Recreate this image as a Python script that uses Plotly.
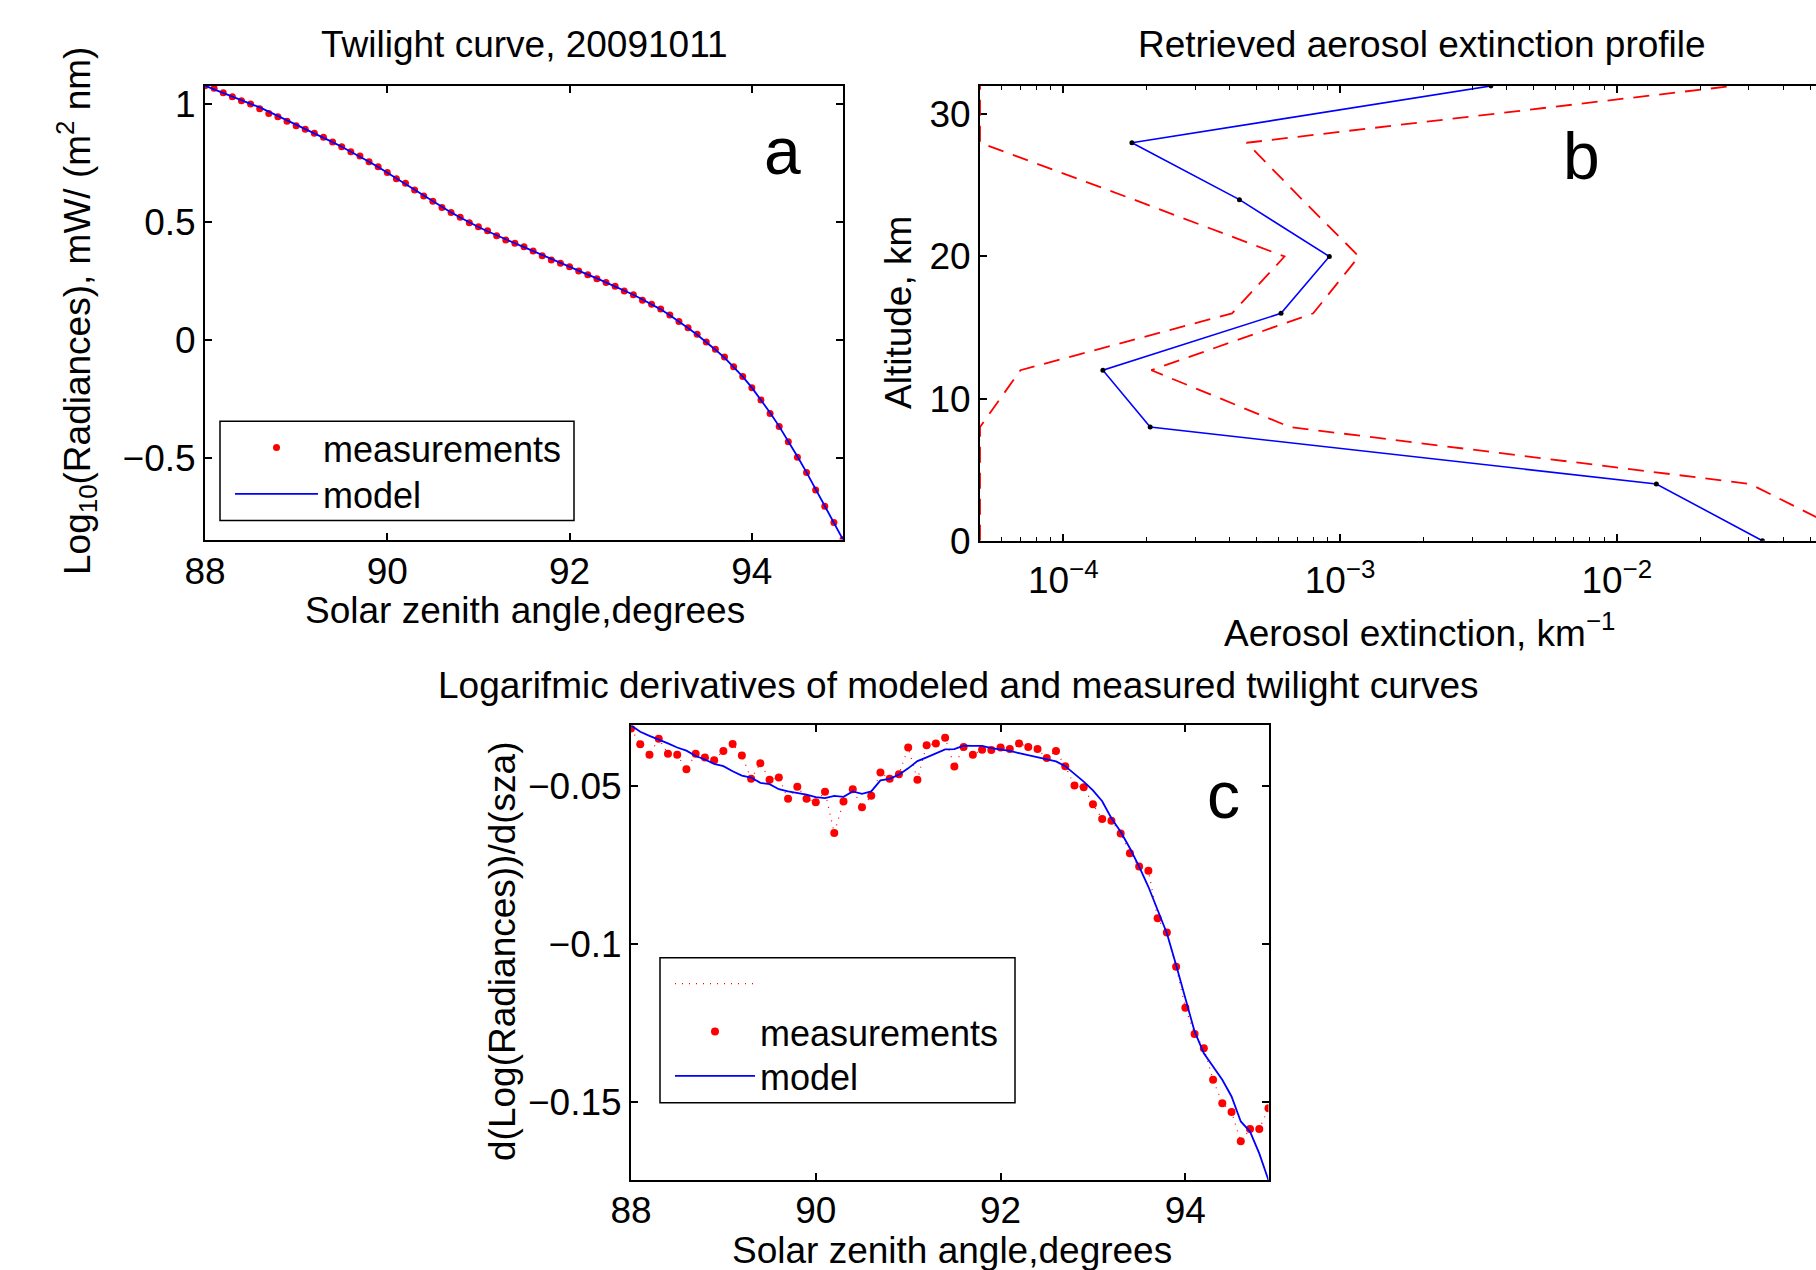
import plotly.graph_objects as go

# ---------------- data ----------------
# Panel a: twilight curve (log10 radiance) vs solar zenith angle
sza_a = [88.0, 88.1, 88.2, 88.3, 88.4, 88.5, 88.6, 88.7, 88.8, 88.9,
         89.0, 89.1, 89.2, 89.3, 89.4, 89.5, 89.6, 89.7, 89.8, 89.9,
         90.0, 90.1, 90.2, 90.3, 90.4, 90.5, 90.6, 90.7, 90.8, 90.9,
         91.0, 91.1, 91.2, 91.3, 91.4, 91.5, 91.6, 91.7, 91.8, 91.9,
         92.0, 92.1, 92.2, 92.3, 92.4, 92.5, 92.6, 92.7, 92.8, 92.9,
         93.0, 93.1, 93.2, 93.3, 93.4, 93.5, 93.6, 93.7, 93.8, 93.9,
         94.0, 94.1, 94.2, 94.3, 94.4, 94.5, 94.6, 94.7, 94.8, 94.9,
         95.0]
rad_meas = [1.078, 1.067, 1.048, 1.031, 1.014, 1.000, 0.980, 0.960, 0.946, 0.927,
            0.908, 0.893, 0.876, 0.859, 0.839, 0.819, 0.798, 0.780, 0.756, 0.734,
            0.710, 0.684, 0.664, 0.636, 0.610, 0.588, 0.562, 0.540, 0.520, 0.497,
            0.480, 0.463, 0.442, 0.424, 0.410, 0.395, 0.377, 0.357, 0.339, 0.325,
            0.311, 0.293, 0.277, 0.260, 0.244, 0.228, 0.208, 0.192, 0.169, 0.152,
            0.131, 0.106, 0.078, 0.052, 0.024, -0.008, -0.039, -0.072, -0.113, -0.155,
            -0.202, -0.254, -0.311, -0.367, -0.431, -0.497, -0.562, -0.636, -0.705, -0.773,
            -0.846]
rad_model = [1.078, 1.063, 1.047, 1.032, 1.017, 1.003, 0.986, 0.968, 0.950, 0.931,
             0.912, 0.894, 0.876, 0.858, 0.839, 0.819, 0.799, 0.778, 0.756, 0.733,
             0.709, 0.685, 0.661, 0.636, 0.611, 0.587, 0.563, 0.541, 0.519, 0.498,
             0.479, 0.461, 0.443, 0.426, 0.410, 0.394, 0.377, 0.359, 0.342, 0.326,
             0.310, 0.294, 0.277, 0.261, 0.244, 0.227, 0.210, 0.192, 0.172, 0.152,
             0.130, 0.105, 0.079, 0.051, 0.022, -0.009, -0.041, -0.075, -0.113, -0.155,
             -0.202, -0.253, -0.308, -0.366, -0.428, -0.494, -0.561, -0.632, -0.703, -0.775,
             -0.846]

# Panel b: retrieved aerosol extinction profile
altitude_km = [0, 4, 8, 12, 16, 20, 24, 28, 32]
ext_retrieved = [0.0336, 0.0139, 2.06e-4, 1.39e-4, 6.12e-4, 9.15e-4, 4.33e-4, 1.77e-4, 3.51e-3]
ext_upper = [0.078, 0.0303, 6.6e-4, 2.08e-4, 8.0e-4, 1.17e-3, 7.3e-4, 4.6e-4, 0.0263]
ext_lower = [5e-5, 5e-5, 5e-5, 7.0e-5, 4.07e-4, 6.3e-4, 1.8e-4, 5e-5, 5e-5]

# Panel c: logarithmic derivatives
sza_c = [88.0, 88.1, 88.2, 88.3, 88.4, 88.5, 88.6, 88.7, 88.8, 88.9,
         89.0, 89.1, 89.2, 89.3, 89.4, 89.5, 89.6, 89.7, 89.8, 89.9,
         90.0, 90.1, 90.2, 90.3, 90.4, 90.5, 90.6, 90.7, 90.8, 90.9,
         91.0, 91.1, 91.2, 91.3, 91.4, 91.5, 91.6, 91.7, 91.8, 91.9,
         92.0, 92.1, 92.2, 92.3, 92.4, 92.5, 92.6, 92.7, 92.8, 92.9,
         93.0, 93.1, 93.2, 93.3, 93.4, 93.5, 93.6, 93.7, 93.8, 93.9,
         94.0, 94.1, 94.2, 94.3, 94.4, 94.5, 94.6, 94.7, 94.8, 94.9]
deriv_meas = [-0.0319, -0.0369, -0.0402, -0.0351, -0.0399, -0.0402, -0.0448, -0.0399, -0.0411, -0.0419,
              -0.0390, -0.0368, -0.0404, -0.0478, -0.0429, -0.0481, -0.0474, -0.0541, -0.0503, -0.0541,
              -0.0552, -0.0519, -0.0650, -0.0550, -0.0511, -0.0568, -0.0532, -0.0458, -0.0478, -0.0464,
              -0.0379, -0.0481, -0.0372, -0.0366, -0.0348, -0.0439, -0.0377, -0.0402, -0.0386, -0.0387,
              -0.0379, -0.0384, -0.0366, -0.0377, -0.0384, -0.0412, -0.0390, -0.0438, -0.0499, -0.0505,
              -0.0559, -0.0605, -0.0611, -0.0651, -0.0714, -0.0756, -0.0769, -0.0920, -0.0965, -0.1073,
              -0.1203, -0.1286, -0.1331, -0.1431, -0.1505, -0.1533, -0.1626, -0.1587, -0.1587, -0.1521]
deriv_model = [-0.0309, -0.0329, -0.0342, -0.0353, -0.0366, -0.0379, -0.0389, -0.0406, -0.0417, -0.0431,
               -0.0438, -0.0454, -0.0468, -0.0474, -0.0491, -0.0495, -0.0511, -0.0518, -0.0523, -0.0528,
               -0.0536, -0.0539, -0.0532, -0.0535, -0.0518, -0.0526, -0.0518, -0.0483, -0.0478, -0.0465,
               -0.0445, -0.0422, -0.0410, -0.0398, -0.0385, -0.0384, -0.0373, -0.0374, -0.0374, -0.0381,
               -0.0385, -0.0390, -0.0397, -0.0403, -0.0409, -0.0417, -0.0423, -0.0438, -0.0462, -0.0487,
               -0.0515, -0.0549, -0.0603, -0.0646, -0.0698, -0.0756, -0.0820, -0.0893, -0.0967, -0.1068,
               -0.1173, -0.1278, -0.1347, -0.1389, -0.1431, -0.1484, -0.1563, -0.1595, -0.1664, -0.1749]

# tick labels
ticks_sza = [88, 90, 92, 94]
ticks_rad = [-0.5, 0, 0.5, 1]
ticks_alt = [0, 10, 20, 30]
ticks_ext = [1e-4, 1e-3, 1e-2]
ticktext_ext = ["10<sup>\u22124</sup>", "10<sup>\u22123</sup>", "10<sup>\u22122</sup>"]
ticks_deriv = [-0.15, -0.1, -0.05]

# ---------------- layout helpers ----------------
W, H = 1816, 1270
FONT = "Liberation Sans, Arial, Helvetica, sans-serif"
FS = 37
LFS = 36
RED = "#ff0000"
BLUE = "#0000ff"


def px(x):
    return x / W


def py(y):
    return 1 - y / H


fig = go.Figure()

# panel a
fig.add_trace(go.Scatter(x=sza_a, y=rad_meas, mode="markers", name="measurements",
                         marker=dict(color=RED, size=7), xaxis="x", yaxis="y", legend="legend"))
fig.add_trace(go.Scatter(x=sza_a, y=rad_model, mode="lines", name="model",
                         line=dict(color=BLUE, width=1.8), xaxis="x", yaxis="y", legend="legend2"))

# panel b
fig.add_trace(go.Scatter(x=ext_lower, y=altitude_km, mode="lines", showlegend=False,
                         line=dict(color=RED, width=1.8, dash="16px,10px"), xaxis="x2", yaxis="y2"))
fig.add_trace(go.Scatter(x=ext_upper, y=altitude_km, mode="lines", showlegend=False,
                         line=dict(color=RED, width=1.8, dash="16px,10px"), xaxis="x2", yaxis="y2"))
fig.add_trace(go.Scatter(x=ext_retrieved, y=altitude_km, mode="lines+markers", showlegend=False,
                         line=dict(color=BLUE, width=1.6), marker=dict(color="black", size=5),
                         xaxis="x2", yaxis="y2"))

# panel c
fig.add_trace(go.Scatter(x=sza_c, y=deriv_meas, mode="lines", name=" ",
                         line=dict(color=RED, width=1.2, dash="1px,6px"),
                         xaxis="x3", yaxis="y3", legend="legend3"))
fig.add_trace(go.Scatter(x=sza_c, y=deriv_meas, mode="markers", name="measurements",
                         marker=dict(color=RED, size=8), xaxis="x3", yaxis="y3", legend="legend4"))
fig.add_trace(go.Scatter(x=sza_c, y=deriv_model, mode="lines", name="model",
                         line=dict(color=BLUE, width=1.8), xaxis="x3", yaxis="y3", legend="legend5"))

axis_common = dict(showline=True, linecolor="black", linewidth=2, ticks="inside", ticklen=7,
                   tickwidth=1.5, tickcolor="black", showgrid=False, zeroline=False,
                   automargin=False,
                   tickfont=dict(family=FONT, size=FS, color="black"))

minor_vals = [m * 10 ** e for e in (-5, -4, -3, -2, -1) for m in range(2, 10)]

legend_common = dict(xanchor="left", yanchor="middle", bgcolor="rgba(0,0,0,0)",
                     borderwidth=0, font=dict(family=FONT, size=LFS, color="black"),
                     tracegroupgap=0)

fig.update_layout(
    width=W, height=H,
    margin=dict(l=0, r=0, t=0, b=0, autoexpand=False),
    paper_bgcolor="white", plot_bgcolor="white",
    font=dict(family=FONT, size=FS, color="black"),
    xaxis=dict(axis_common, domain=[px(205), px(843)], range=[88, 95], tickvals=ticks_sza,
               mirror="ticks", anchor="y", ticklabelstandoff=-2),
    yaxis=dict(axis_common, domain=[py(539.6), py(85.7)], range=[-0.846, 1.078], tickvals=ticks_rad,
               mirror="ticks", anchor="x"),
    xaxis2=dict(axis_common, domain=[px(980), 1.0], type="log", range=[-4.30103, -1.280],
                tickvals=ticks_ext, ticktext=ticktext_ext, mirror="ticks", anchor="y2",
                ticklabelstandoff=6,
                minor=dict(tickmode="array", tickvals=minor_vals, ticks="inside", ticklen=4,
                           tickwidth=1.2, tickcolor="black", showgrid=False)),
    yaxis2=dict(axis_common, domain=[py(540.8), py(85.9)], range=[0, 32], tickvals=ticks_alt,
                mirror=False, anchor="x2", layer="below traces"),
    xaxis3=dict(axis_common, domain=[px(631), px(1268.5)], range=[88, 94.9], tickvals=ticks_sza,
                mirror="ticks", anchor="y3", ticklabelstandoff=-4),
    yaxis3=dict(axis_common, domain=[py(1180.2), py(725.4)], range=[-0.1749, -0.0309],
                tickvals=ticks_deriv, mirror="ticks", anchor="x3"),
    # legend of panel a (one entry per legend so rows sit where the reference has them)
    legend=dict(legend_common, x=px(230), y=py(447.7), itemwidth=83),
    legend2=dict(legend_common, x=px(230), y=py(494), itemwidth=83),
    # legend of panel c
    legend3=dict(legend_common, x=px(670), y=py(983.7), itemwidth=80),
    legend4=dict(legend_common, x=px(670), y=py(1031.6), itemwidth=80),
    legend5=dict(legend_common, x=px(670), y=py(1076), itemwidth=80),
    shapes=[
        dict(type="rect", xref="paper", yref="paper", x0=px(220), x1=px(574), y0=py(520.4), y1=py(421.2),
             line=dict(color="black", width=1.5), fillcolor="white", layer="above"),
        dict(type="rect", xref="paper", yref="paper", x0=px(660), x1=px(1015), y0=py(1102.8), y1=py(957.7),
             line=dict(color="black", width=1.5), fillcolor="white", layer="above"),
    ],
)

ann = []


def text(x, y, s, size=FS, angle=0):
    ann.append(dict(x=px(x), y=py(y), xref="paper", yref="paper", text=s, showarrow=False,
                    xanchor="center", yanchor="middle", textangle=angle,
                    font=dict(family=FONT, size=size, color="black")))


text(524, 44, "Twilight curve, 20091011")
text(1422, 44, "Retrieved aerosol extinction profile")
text(958, 686, "Logarifmic derivatives of modeled and measured twilight curves")
text(525, 610, "Solar zenith angle,degrees")
text(1419, 630, "Aerosol extinction, km<sup>\u22121</sup>")
text(952, 1250, "Solar zenith angle,degrees")
text(76, 311, "Log<sub>10</sub>(Radiances), mW/ (m<sup>2</sup> nm)", angle=-90)
text(899, 313, "Altitude, km", angle=-90)
text(502, 951, "d(Log(Radiances))/d(sza)", angle=-90)
text(782, 151, "a", size=66)
text(1581, 156, "b", size=66)
text(1223, 795, "c", size=66)

fig.update_layout(annotations=ann)

fig.write_html("out.html",
               config={"displayModeBar": False},
               post_script="document.body.style.margin='0';document.body.style.padding='0';"
                           "document.body.style.overflow='hidden';")
